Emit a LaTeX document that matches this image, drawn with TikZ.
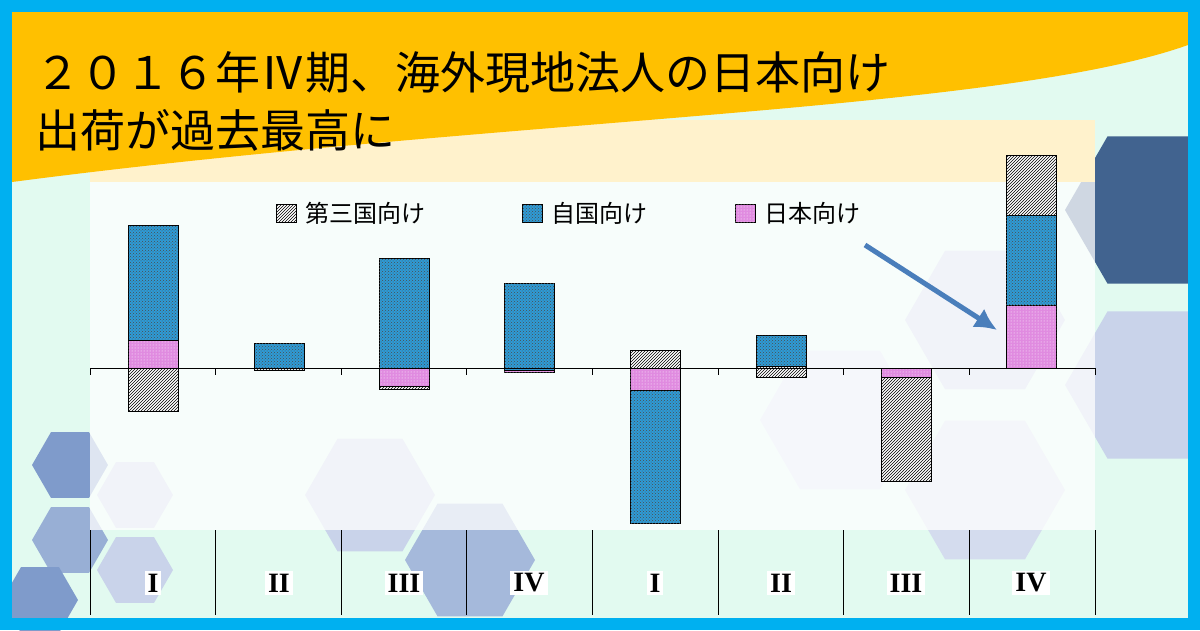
\documentclass[tikz,border=0pt]{standalone}
\usepackage{fontspec}
\setmainfont{Liberation Serif}
\newfontfamily\jp{Noto Sans CJK JP}
\usetikzlibrary{patterns,arrows.meta,calc}
\definecolor{frame}{HTML}{00B0F0}
\definecolor{mint}{HTML}{E2FAF0}
\definecolor{banner}{HTML}{FFC000}
\definecolor{cream}{HTML}{FFF2CC}
\definecolor{hexdark}{HTML}{41638F}
\definecolor{hexmid}{HTML}{7F9BCB}
\definecolor{hexlight}{HTML}{C9D3EA}
\definecolor{selfblue}{HTML}{2E9BD6}
\definecolor{jappink}{HTML}{E08BE0}
\definecolor{arrowblue}{HTML}{4A7EBB}
\tikzset{every picture/.style={line width=0.75pt},
  hatchseg/.style={draw=black,line width=0.5pt,fill=white,postaction={pattern=north east lines}},
  selfseg/.style={draw=black,line width=0.5pt,fill=selfblue,postaction={pattern=crosshatch dots,pattern color=black!70}},
  japseg/.style={draw=black,line width=0.5pt,fill=jappink,postaction={pattern=dots,pattern color=white}},
  catlabel/.style={fill=white,inner sep=3pt,font=\bfseries\fontsize{28}{28}\selectfont}}
\newcommand{\hexat}[4]{\fill[#4] ($(#1,#2)+(0:#3)$) -- ($(#1,#2)+(60:#3)$) -- ($(#1,#2)+(120:#3)$) -- ($(#1,#2)+(180:#3)$) -- ($(#1,#2)+(240:#3)$) -- ($(#1,#2)+(300:#3)$) -- cycle;}
\begin{document}
\begin{tikzpicture}[x=1pt,y=1pt,yscale=-1]
\useasboundingbox (0,0) rectangle (1200,630);
% background and frame
\fill[mint] (0,0) rectangle (1200,630);
% decorative hexagons
\hexat{1150}{210}{85}{hexdark}
\hexat{1150}{385}{85}{hexlight}
\hexat{985}{320}{80}{hexlight}
\hexat{985}{490}{80}{hexlight!80!white}
\hexat{840}{420}{80}{hexlight!70!white}
\hexat{70}{465}{38}{hexmid}
\hexat{135}{495}{38}{hexlight}
\hexat{70}{540}{38}{hexmid!80!white}
\hexat{135}{570}{38}{hexlight}
\hexat{40}{600}{38}{hexmid}
\hexat{370}{495}{65}{hexlight}
\hexat{470}{560}{65}{hexmid!70!white}
% chart area
\fill[white,opacity=0.75] (90,180) rectangle (1095,530);
\fill[cream] (90,120) rectangle (1095,182);
% title banner
\fill[banner] (12,12) -- (1188,12) -- (1188,45) .. controls (1000,112) and (500,118) .. (12,182) -- cycle;
\node[anchor=west,font=\jp\fontsize{45}{45}\selectfont] (t1) at (32,72) {２０１６年Ⅳ期、海外現地法人の日本向け};
\node[anchor=west,font=\jp\fontsize{45}{45}\selectfont] (t2) at (32,130) {出荷が過去最高に};
% stacked bars
\foreach \x/\a/\b/\s in {153/225/340/selfseg, 153/340/368/japseg, 153/368/411/hatchseg,
  279/343/368/selfseg, 279/368/370/hatchseg,
  404/258/368/selfseg, 404/368/386/japseg, 404/386/389/hatchseg,
  529/283/370/selfseg, 529/370/372/japseg,
  655/350/368/hatchseg, 655/368/390/japseg, 655/390/523/selfseg,
  781/335/366/selfseg, 781/366/377/hatchseg,
  906/368/377/japseg, 906/377/481/hatchseg,
  1031/155/215/hatchseg, 1031/215/305/selfseg, 1031/305/368/japseg}
  \draw[\s] (\x-25,\a) rectangle (\x+25,\b);
% axis and category grid
\draw[line width=0.5pt] (90,368) -- (1095,368);
\foreach \x in {90,215,341,466,592,718,843,969,1095}
  \draw[line width=0.5pt] (\x,368) -- (\x,375) (\x,530) -- (\x,615);
\foreach \x/\t [count=\i] in {153/I,279/II,404/III,529/IV,655/I,781/II,906/III,1031/IV}
  \node[catlabel] (cat\i) at (\x,583) {\t};
% legend
\draw[hatchseg] (276,204) rectangle (296,222);
\node[anchor=west,font=\jp\fontsize{24}{24}\selectfont] (lg1) at (302,213) {第三国向け};
\draw[selfseg] (522,204) rectangle (542,222);
\node[anchor=west,font=\jp\fontsize{24}{24}\selectfont] (lg2) at (548,213) {自国向け};
\draw[japseg] (735,204) rectangle (755,222);
\node[anchor=west,font=\jp\fontsize{24}{24}\selectfont] (lg3) at (761,213) {日本向け};
% pointer
\coordinate (ps) at (865,245);
\coordinate (pe) at (997,330);
\draw[arrowblue,line width=5pt,-{Latex[length=22pt,width=22pt]}] (ps) -- (pe);
% frame
\draw[frame,line width=12pt] (6,6) rectangle (1194,624);
\end{tikzpicture}
\end{document}
